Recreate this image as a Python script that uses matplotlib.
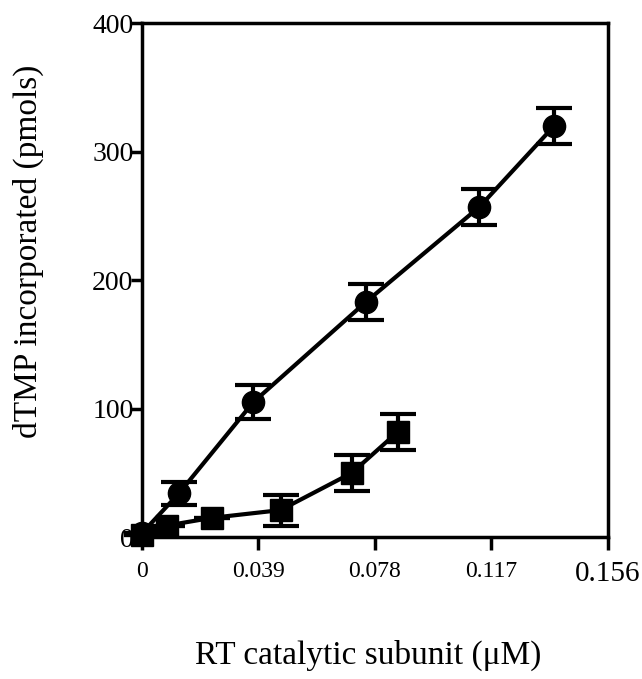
import matplotlib
matplotlib.use('Agg')
import matplotlib.pyplot as plt

# dTMP incorporation vs RT catalytic subunit concentration
conc_circle = [0.0, 0.0124, 0.0373, 0.0750, 0.1130, 0.1380]
dtmp_circle = [3, 34, 105, 183, 257, 320]
err_circle = [0, 9, 13, 14, 14, 14]

conc_square = [0.0, 0.0084, 0.0235, 0.0464, 0.0703, 0.0857]
dtmp_square = [2, 9, 15, 21, 50, 82]
err_square = [0, 0, 0, 12, 14, 14]

x_ticks = [0, 0.039, 0.078, 0.117, 0.156]
x_ticklabels = ['0', '0.039', '0.078', '0.117', '0.156']
y_ticks = [0, 100, 200, 300, 400]

plt.rcParams['font.family'] = ['Liberation Serif', 'DejaVu Serif']

fig = plt.figure(figsize=(6.42, 6.79), dpi=100)
ax = fig.add_axes([0.221, 0.209, 0.726, 0.757])

estilo = dict(color='black', linewidth=3, markersize=16, elinewidth=3,
              capsize=13, capthick=3, clip_on=False)
ax.errorbar(conc_circle, dtmp_circle, yerr=err_circle, fmt='-o', **estilo)
ax.errorbar(conc_square, dtmp_square, yerr=err_square, fmt='-s', **estilo)

ax.set_xlim(0, 0.156)
ax.set_ylim(0, 400)
ax.set_xticks(x_ticks)
ax.set_xticklabels(x_ticklabels, fontsize=17)
ax.get_xticklabels()[-1].set_fontsize(21)
ax.set_yticks(y_ticks)
ax.set_yticklabels([str(v) for v in y_ticks], fontsize=20)

for s in ax.spines.values():
    s.set_linewidth(2.5)
ax.tick_params(axis='x', direction='out', length=9, width=2.5, pad=8)
ax.tick_params(axis='y', direction='out', length=8, width=2.5, pad=-2)

ax.set_xlabel('RT catalytic subunit (\u03bcM)', fontsize=24)
ax.xaxis.set_label_coords(0.485, -0.2)
ax.set_ylabel('dTMP incorporated (pmols)', fontsize=24)
ax.yaxis.set_label_coords(-0.21, 0.556)

fig.savefig('out.png', dpi=100)
plt.close(fig)
